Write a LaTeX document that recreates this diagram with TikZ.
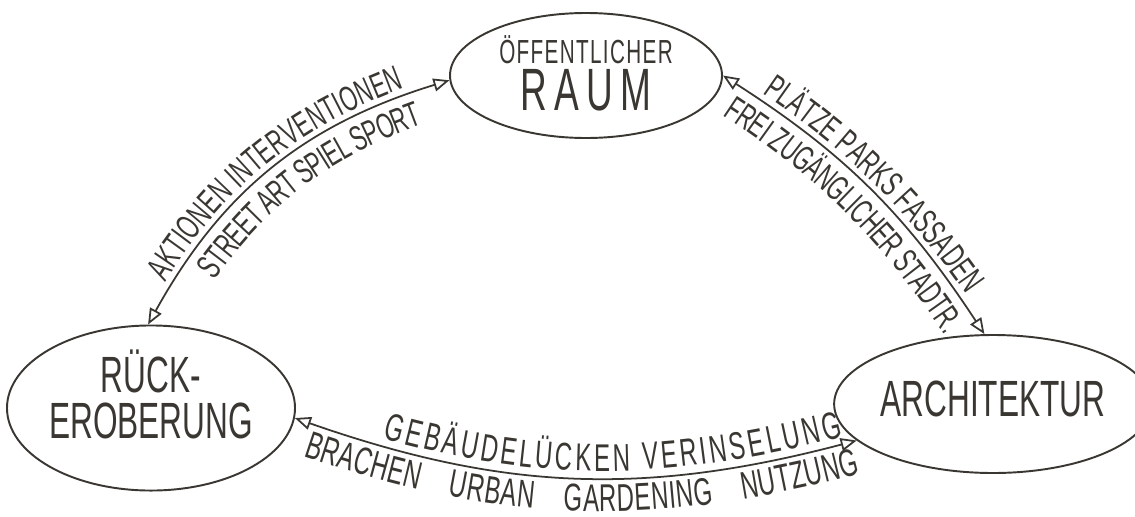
\documentclass[tikz,border=0pt]{standalone}
\usepackage{fontspec}
\usepackage{xcolor}
\usepackage{tikz}
\usetikzlibrary{shapes.geometric, arrows.meta, decorations.text}

\newfontfamily\hand{Liberation Sans}[FakeStretch=0.62]
\definecolor{ink}{HTML}{3A3733}
\newcommand{\labelfont}{\hand\fontsize{20}{22}\selectfont}

\begin{document}
\begin{tikzpicture}[
    bubble/.style={draw=ink, ellipse, line width=1.1pt, inner sep=0pt, align=center, text=ink},
    link/.style={{Triangle[open, length=3.2mm, width=2.6mm]}-{Triangle[open, length=3.2mm, width=2.6mm]}, draw=ink, line width=1pt},
    label font/.code={\def\labelfont{#1}},
    over/.style 2 args={postaction={decorate, decoration={text along path, raise=4pt, text color=ink, text align={#1}, text={|\labelfont|#2}}}},
    under/.style 2 args={postaction={decorate, decoration={text along path, raise=-19pt, text color=ink, text align={#1}, text={|\labelfont|#2}}}}
]
\useasboundingbox (0,0) rectangle (22.7,10.32);

% Ellipses
\node[bubble, minimum width=5.44cm, minimum height=2.5cm, text depth=0.1cm,
    font=\hand\fontsize{31}{31}\selectfont] (raum) at (11.72,8.81)
    {\fontsize{19}{31}\selectfont\addfontfeature{LetterSpace=4}ÖFFENTLICHER\\[-4pt]\fontsize{34}{31}\selectfont R\kern4pt A\kern4pt U\kern4pt M};
\node[bubble, minimum width=5.56cm, minimum height=2.74cm, text depth=0.55cm,
    font=\hand\fontsize{29}{27.5}\selectfont] (rueck) at (3.02,2.16)
    {RÜCK-\\[-1pt]EROBERUNG};
\node[bubble, minimum width=5.5cm, minimum height=2.76cm, text depth=0.2cm,
    font=\hand\fontsize{29}{29}\selectfont] (arch) at (19.86,2.24)
    {ARCHITEKTUR};

% Arrows with their labels
\draw[link, over={center}{AKTIONEN INTERVENTIONEN},
    under={align=center, left indent=0.7cm}{STREET ART SPIEL SPORT}]
    (rueck.92) to[bend left=22] (raum.182);
\draw[link, over={center}{PLÄTZE PARKS FASSADEN},
    under={center}{FREI ZUGÄNGLICHER STADTR.}]
    (raum.0) to[bend left=12] (arch.97);
\draw[link, label font={\hand\fontsize{22}{24}\selectfont},
    over={fit to path, left indent=1.8cm, right indent=0.25cm}{GEBÄUDELÜCKEN VERINSELUNG},
    under={fit to path stretching spaces, left indent=0.4cm, right indent=0.1cm}{BRACHEN URBAN GARDENING NUTZUNG}]
    (rueck.-4) to[bend right=17] (arch.195);

\end{tikzpicture}
\end{document}
